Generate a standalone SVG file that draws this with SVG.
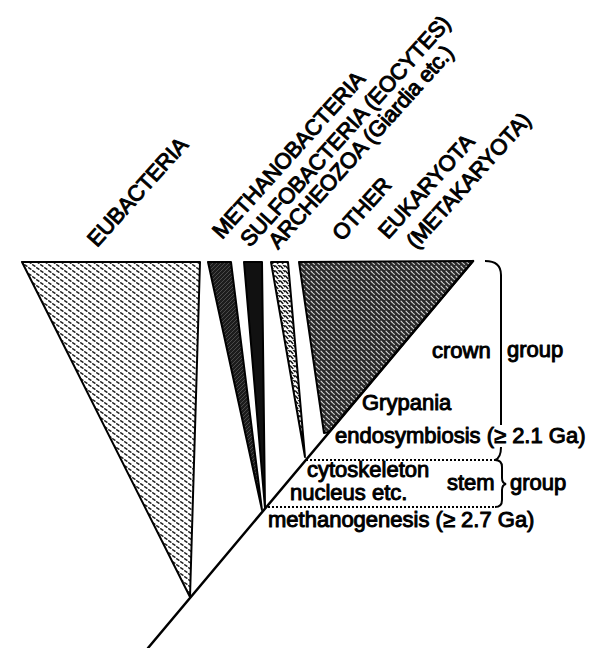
<svg xmlns="http://www.w3.org/2000/svg" width="605" height="648" viewBox="0 0 605 648">
<style>
text{font-family:"Liberation Sans",Arial,Helvetica,sans-serif;font-size:22px;fill:#000;stroke:#000;stroke-width:1;stroke-linejoin:round}
.lbl{letter-spacing:-0.3px}
.edge{stroke:#000;stroke-width:2;stroke-linejoin:round}
.ln{fill:none;stroke:#000;stroke-width:2.5;stroke-linecap:round}
.br{fill:none;stroke:#000;stroke-width:2}
.dot{fill:none;stroke:#000;stroke-width:2;stroke-dasharray:2 2}
</style>
<defs>
<pattern id="pEub" width="8" height="6" patternUnits="userSpaceOnUse">
<rect width="8" height="6" fill="#fff"/>
<path d="M0.8,0.8 L2.8,2.2 M4.8,3.8 L6.8,5.2" stroke="#222" stroke-width="1.5" stroke-linecap="round"/>
</pattern>
<pattern id="pArch" width="5" height="5" patternUnits="userSpaceOnUse">
<rect width="5" height="5" fill="#fff"/>
<path d="M0.5,1 L2.8,3.5 M3,-0.5 L5,1.8" stroke="#111" stroke-width="1.5" stroke-linecap="round"/>
</pattern>
<pattern id="pEuk" width="5" height="5" patternUnits="userSpaceOnUse">
<rect width="5" height="5" fill="#2a2a2a"/>
<path d="M1,1.2 L2.6,2.8 M3.5,3.6 L4.3,4.4" stroke="#ddd" stroke-width="1.1" stroke-linecap="round"/>
</pattern>
<pattern id="pMeth" width="4" height="4" patternUnits="userSpaceOnUse">
<rect width="4" height="4" fill="#1c1c1c"/>
<path d="M0,4 L4,0" stroke="#555" stroke-width="0.8"/>
</pattern>
</defs>

<g id="eubacteria">
<polygon class="edge" points="22,262 200,262 190,597" fill="url(#pEub)"/>
<text class="lbl" transform="translate(97,248) rotate(-48)">EUBACTERIA</text>
</g>

<g id="methanobacteria">
<polygon class="edge" points="208,262 231,262 262,510" fill="url(#pMeth)"/>
<text class="lbl" transform="translate(222,240) rotate(-48)">METHANOBACTERIA</text>
</g>

<g id="sulfobacteria">
<polygon class="edge" points="244,262 262,262 265,508" fill="#111"/>
<text class="lbl" transform="translate(250,248) rotate(-48)">SULFOBACTERIA (EOCYTES)</text>
</g>

<g id="archeozoa">
<polygon class="edge" points="271,262 288,262 305,457" fill="url(#pArch)"/>
<text class="lbl" transform="translate(278,250) rotate(-48)">ARCHEOZOA (Giardia etc.)</text>
</g>

<g id="eukaryota">
<polygon class="edge" points="299,262 473,261 329,432 324,433" fill="url(#pEuk)"/>
<text class="lbl" transform="translate(342,242) rotate(-48)">OTHER</text>
<text class="lbl" transform="translate(388,240) rotate(-48)">EUKARYOTA</text>
<text class="lbl" transform="translate(416,250) rotate(-48)">(METAKARYOTA)</text>
</g>

<g id="connectors">
<path class="ln" d="M148,648 L473,261"/>
<line class="dot" x1="306" y1="460" x2="495" y2="460"/>
<line class="dot" x1="268" y1="507" x2="495" y2="507"/>
<path class="br" d="M485,261 Q501,261 501,275 L501,425"/>
<path class="br" d="M501,447 Q501,458 495,460 Q502,460 502,467 L502,478 Q502,483 506,484 Q502,485 502,490 L502,500 Q502,507 495,507"/>
</g>

<g id="labels">
<text x="432" y="358">crown</text>
<text x="507" y="357">group</text>
<text x="362" y="410">Grypania</text>
<text x="335" y="443">endosymbiosis (≥ 2.1 Ga)</text>
<text x="307" y="477">cytoskeleton</text>
<text x="290" y="500">nucleus etc.</text>
<text x="447" y="490">stem</text>
<text x="510" y="490">group</text>
<text x="268" y="527">methanogenesis (≥ 2.7 Ga)</text>
</g>
</svg>
